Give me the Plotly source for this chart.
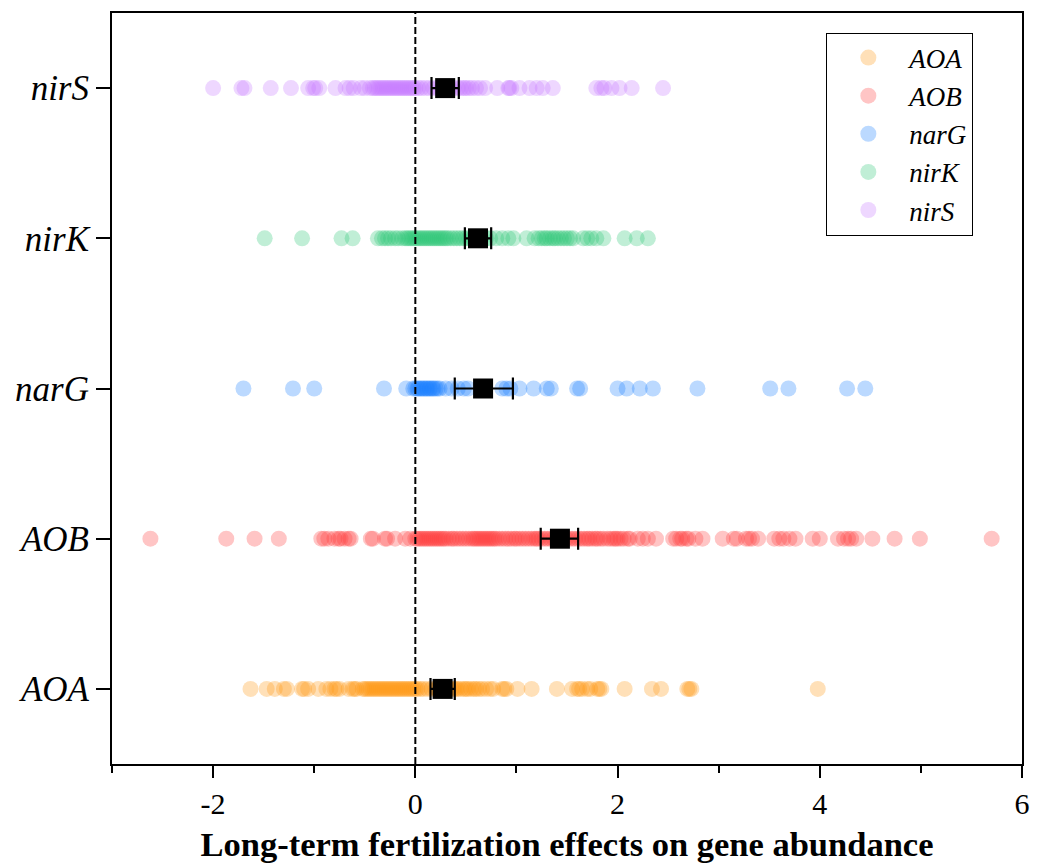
import plotly.graph_objects as go

genes = ["AOA", "AOB", "narG", "nirK", "nirS"]
colors = ["#FF9914", "#FF4040", "#1E82FF", "#30C878", "#C87CFF"]

aoa = [-1.63, -1.47, -1.39, -1.3, -1.27, -1.12, -1.1, -1.06, -0.96, -0.88, -0.84, -0.8,
       -0.78, -0.75, -0.66, -0.62, -0.6, -0.58, -0.52,
       -0.5, -0.48, -0.46, -0.44, -0.42, -0.4, -0.38, -0.36, -0.34, -0.32, -0.3, -0.28,
       -0.26, -0.24, -0.22, -0.2, -0.18, -0.16, -0.14, -0.12, -0.1, -0.08, -0.06, -0.04,
       -0.02, 0.0, 0.02, 0.05, 0.08, 0.12, 0.16, 0.2, 0.22, 0.25, 0.28, 0.3, 0.33, 0.36,
       0.38, 0.4, 0.42, 0.45, 0.48, 0.5, 0.52, 0.55, 0.58, 0.6, 0.63, 0.66, 0.7, 0.74,
       0.77, 0.86, 0.88, 0.9,
       1.01, 1.15, 1.4, 1.55, 1.6, 1.62, 1.65, 1.7, 1.73, 1.8, 1.82, 1.84, 2.07, 2.34,
       2.43, 2.69, 2.71, 2.73, 3.98]
aob = [-2.62, -1.87, -1.59, -1.35, -0.93, -0.9, -0.86, -0.8, -0.76, -0.74, -0.7, -0.66,
       -0.64, -0.44, -0.42, -0.3, -0.28, -0.2, -0.1, -0.05,
       0.0, 0.02, 0.04, 0.06, 0.08, 0.1, 0.12, 0.14, 0.16, 0.18, 0.2, 0.22, 0.24, 0.26,
       0.28, 0.3, 0.33, 0.36, 0.38, 0.41, 0.44, 0.47, 0.5, 0.53, 0.56, 0.58, 0.6, 0.62,
       0.64, 0.66, 0.68, 0.7, 0.72, 0.74, 0.76, 0.78, 0.8, 0.83, 0.86, 0.89, 0.92, 0.95,
       0.98, 1.0, 1.03, 1.06, 1.09, 1.12, 1.15, 1.18, 1.2, 1.22, 1.25, 1.28, 1.31, 1.34,
       1.37, 1.4, 1.43, 1.46, 1.49, 1.52, 1.55, 1.58, 1.61, 1.64, 1.67, 1.7, 1.72, 1.75,
       1.78, 1.8, 1.83, 1.86, 1.9, 1.93, 1.96, 1.98, 2.0, 2.03, 2.06, 2.1, 2.12,
       2.2, 2.25, 2.3, 2.38, 2.55, 2.58, 2.62, 2.64, 2.68, 2.7, 2.77, 2.84, 3.04, 3.15,
       3.18, 3.27, 3.3, 3.33, 3.39, 3.55, 3.6, 3.64, 3.7, 3.76, 3.93, 4.0, 4.18, 4.24,
       4.28, 4.31, 4.36, 4.52, 4.74, 4.99, 5.7]
narg = [-1.70, -1.21, -1.0, -0.31, -0.09, -0.02, 0.0, 0.02, 0.03, 0.05, 0.06, 0.08,
        0.09, 0.11, 0.12, 0.14, 0.15, 0.17, 0.18, 0.2, 0.22, 0.24, 0.3, 0.36, 0.42,
        0.48, 0.52, 0.86, 0.9, 0.94, 1.03, 1.17, 1.3, 1.34, 1.6, 1.63, 2.0, 2.09, 2.22,
        2.35, 2.79, 3.51, 3.69, 4.27, 4.45]
nirk = [-1.49, -1.12, -0.73, -0.62, -0.37, -0.33, -0.3, -0.27, -0.24, -0.2, -0.17,
        -0.13, -0.1, -0.08, -0.06, -0.04, -0.02, 0.0, 0.02, 0.04, 0.06, 0.08, 0.1, 0.12,
        0.14, 0.16, 0.18, 0.2, 0.22, 0.24, 0.26, 0.28, 0.3, 0.32, 0.35, 0.38, 0.41,
        0.44, 0.47, 0.5, 0.53, 0.57, 0.6, 0.65, 0.7, 0.74, 0.8, 0.86, 0.92, 0.97, 1.1,
        1.18, 1.22, 1.25, 1.28, 1.3, 1.33, 1.36, 1.38, 1.41, 1.44, 1.47, 1.5, 1.53, 1.56,
        1.66, 1.7, 1.74, 1.79, 1.86, 2.07, 2.19, 2.3]
nirs = [-2.0, -1.72, -1.69, -1.43, -1.23, -1.06, -1.01, -0.99, -0.95, -0.79, -0.69,
        -0.65, -0.61, -0.54, -0.5, -0.45, -0.42, -0.4, -0.38, -0.36, -0.34, -0.32, -0.3,
        -0.28, -0.26, -0.24, -0.22, -0.2, -0.18, -0.16, -0.14, -0.12, -0.1, -0.08, -0.06,
        -0.04, -0.02, 0.0, 0.03, 0.06, 0.1, 0.14, 0.18, 0.22, 0.26, 0.3, 0.34, 0.38,
        0.42, 0.45, 0.48, 0.5, 0.53, 0.56, 0.6, 0.64, 0.69, 0.81, 0.92, 0.93, 0.95, 1.03,
        1.13, 1.2, 1.26, 1.36, 1.79, 1.84, 1.87, 1.94, 2.02, 2.14, 2.45]
series = [aoa, aob, narg, nirk, nirs]

mean_eff = [0.27, 1.43, 0.67, 0.62, 0.295]
ci_low = [0.15, 1.24, 0.39, 0.49, 0.16]
ci_high = [0.39, 1.61, 0.965, 0.75, 0.43]

x_ticks = [-2, 0, 2, 4, 6]

fig = go.Figure()
for i, (g, vals) in enumerate(zip(genes, series)):
    fig.add_trace(go.Scatter(
        x=vals, y=[i] * len(vals), mode="markers", name=g,
        marker=dict(size=16, color=colors[i], opacity=0.3, line=dict(width=0)),
        hoverinfo="x+name"))

fig.add_trace(go.Scatter(
    x=mean_eff, y=list(range(len(genes))), mode="markers", showlegend=False,
    marker=dict(symbol="square", size=20, color="black"),
    error_x=dict(type="data", symmetric=False,
                 array=[h - m for h, m in zip(ci_high, mean_eff)],
                 arrayminus=[m - l for m, l in zip(mean_eff, ci_low)],
                 color="black", thickness=2.2, width=11)))

fig.add_shape(type="line", x0=0, x1=0, y0=0, y1=1, xref="x", yref="paper",
              line=dict(color="black", width=2, dash="7px,3px"))

font_family = "Liberation Serif, Times New Roman, serif"
fig.update_layout(
    width=1041, height=868,
    margin=dict(l=112, r=15, t=11, b=103),
    plot_bgcolor="white", paper_bgcolor="white",
    font=dict(family=font_family, color="black"),
    showlegend=True,
    legend=dict(x=0.785, y=0.974, xanchor="left", yanchor="top",
                bordercolor="black", borderwidth=1, bgcolor="white",
                itemwidth=72,
                font=dict(family=font_family, size=27, style="italic", color="black")),
    xaxis=dict(range=[-3, 6], tickvals=x_ticks, ticktext=[str(v) for v in x_ticks],
               showline=True, linecolor="black", linewidth=2, mirror=True,
               ticks="outside", ticklen=12, tickwidth=2, tickcolor="black",
               minor=dict(dtick=1, tick0=0, ticks="outside", ticklen=7, tickwidth=2,
                          tickcolor="black"),
               showgrid=False, zeroline=False,
               tickfont=dict(size=30, family=font_family),
               title=dict(text="<b>Long-term fertilization effects on gene abundance</b>",
                          font=dict(size=34.5, family=font_family), standoff=13)),
    yaxis=dict(range=[-0.5, 4.5], tickvals=list(range(len(genes))), ticktext=genes,
               showline=True, linecolor="black", linewidth=2, mirror=True,
               ticks="outside", ticklen=14, tickwidth=2, tickcolor="black",
               showgrid=False, zeroline=False,
               tickfont=dict(size=35, family=font_family, style="italic")),
)

fig.write_html("out.html")
